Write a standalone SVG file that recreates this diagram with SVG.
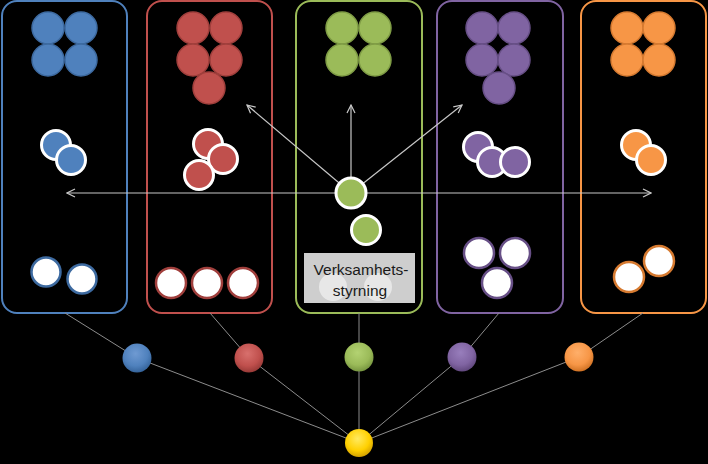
<svg xmlns="http://www.w3.org/2000/svg" width="708" height="464" viewBox="0 0 708 464">
<defs>
<style>
.panel{fill:#000;stroke-width:2}
.cb{fill:#4f81bd;stroke:#3d6aa0}.cr{fill:#c0504d;stroke:#a03f3c}.cg{fill:#9bbb59;stroke:#7f9c45}.cp{fill:#8064a2;stroke:#674f86}.co{fill:#f79646;stroke:#d67a30}
.top circle{stroke-width:1.5}
.mid circle{stroke:#fff;stroke-width:3}
.bot circle{fill:#fff;stroke-width:2.5}
.arrow{stroke:#c8c8c8;stroke-width:1.2;fill:none;marker-end:url(#ah)}
.link{stroke:#8c8c8c;stroke-width:1;fill:none}
.lbl{font-family:"Liberation Sans",Arial,sans-serif;font-size:15.5px;fill:#1a1a1a;text-anchor:middle}
</style>
<marker id="ah" viewBox="0 0 10 10" refX="9" refY="5" markerWidth="10" markerHeight="10" markerUnits="userSpaceOnUse" orient="auto">
<path d="M1,1 L9,5 L1,9" fill="none" stroke="#c8c8c8" stroke-width="1.2"/>
</marker>
<radialGradient id="gB" cx="45%" cy="35%" r="65%"><stop offset="0" stop-color="#6f9ad2"/><stop offset="0.65" stop-color="#4f81bd"/><stop offset="1" stop-color="#35639a"/></radialGradient>
<radialGradient id="gR" cx="45%" cy="35%" r="65%"><stop offset="0" stop-color="#d8706d"/><stop offset="0.65" stop-color="#c0504d"/><stop offset="1" stop-color="#983a37"/></radialGradient>
<radialGradient id="gG" cx="45%" cy="35%" r="65%"><stop offset="0" stop-color="#b3d272"/><stop offset="0.65" stop-color="#9bbb59"/><stop offset="1" stop-color="#779640"/></radialGradient>
<radialGradient id="gP" cx="45%" cy="35%" r="65%"><stop offset="0" stop-color="#987ebc"/><stop offset="0.65" stop-color="#8064a2"/><stop offset="1" stop-color="#61487e"/></radialGradient>
<radialGradient id="gO" cx="45%" cy="35%" r="65%"><stop offset="0" stop-color="#ffaf6a"/><stop offset="0.65" stop-color="#f79646"/><stop offset="1" stop-color="#d07224"/></radialGradient>
<radialGradient id="gY" cx="45%" cy="35%" r="65%"><stop offset="0" stop-color="#ffea60"/><stop offset="0.65" stop-color="#ffd000"/><stop offset="1" stop-color="#d4a200"/></radialGradient>
</defs>
<rect width="708" height="464" fill="#000"/>

<g id="panel-blue">
<rect class="panel" x="2" y="1" width="125" height="312" rx="15" stroke="#4f81bd"/>
<g class="top cb"><circle cx="48" cy="28" r="16"/><circle cx="81" cy="28" r="16"/><circle cx="48" cy="60" r="16"/><circle cx="81" cy="60" r="16"/></g>
<g class="mid cb"><circle cx="56" cy="145" r="14.5"/><circle cx="71" cy="160" r="14.5"/></g>
<g class="bot cb"><circle cx="46" cy="272" r="14.5"/><circle cx="82" cy="279" r="14.5"/></g>
</g>

<g id="panel-red">
<rect class="panel" x="147" y="1" width="125" height="312" rx="15" stroke="#c0504d"/>
<g class="top cr"><circle cx="193" cy="28" r="16"/><circle cx="226" cy="28" r="16"/><circle cx="193" cy="60" r="16"/><circle cx="226" cy="60" r="16"/><circle cx="209" cy="88" r="16"/></g>
<g class="mid cr"><circle cx="208" cy="144" r="14.5"/><circle cx="223" cy="159" r="14.5"/><circle cx="199" cy="175" r="14.5"/></g>
<g class="bot cr"><circle cx="171" cy="283" r="15"/><circle cx="207" cy="283" r="15"/><circle cx="243" cy="283" r="15"/></g>
</g>

<g id="panel-green">
<rect class="panel" x="296" y="1" width="126" height="312" rx="15" stroke="#9bbb59"/>
<g class="top cg"><circle cx="342" cy="28" r="16"/><circle cx="375" cy="28" r="16"/><circle cx="342" cy="60" r="16"/><circle cx="375" cy="60" r="16"/></g>
</g>

<g id="panel-purple">
<rect class="panel" x="437" y="1" width="126" height="312" rx="15" stroke="#8064a2"/>
<g class="top cp"><circle cx="482" cy="28" r="16"/><circle cx="514" cy="28" r="16"/><circle cx="482" cy="60" r="16"/><circle cx="514" cy="60" r="16"/><circle cx="499" cy="88" r="16"/></g>
<g class="mid cp"><circle cx="478" cy="147" r="14.5"/><circle cx="492" cy="162" r="14.5"/><circle cx="515" cy="162" r="14.5"/></g>
<g class="bot cp"><circle cx="479" cy="253" r="15"/><circle cx="515" cy="253" r="15"/><circle cx="497" cy="283" r="15"/></g>
</g>

<g id="panel-orange">
<rect class="panel" x="581" y="1" width="125" height="312" rx="15" stroke="#f79646"/>
<g class="top co"><circle cx="627" cy="28" r="16"/><circle cx="659" cy="28" r="16"/><circle cx="627" cy="60" r="16"/><circle cx="659" cy="60" r="16"/></g>
<g class="mid co"><circle cx="636" cy="145" r="14.5"/><circle cx="651" cy="160" r="14.5"/></g>
<g class="bot co"><circle cx="629" cy="277" r="15"/><circle cx="659" cy="261" r="15"/></g>
</g>

<g id="connectors">
<line class="arrow" x1="351" y1="193" x2="67" y2="193"/>
<line class="arrow" x1="351" y1="193" x2="651" y2="193"/>
<line class="arrow" x1="351" y1="193" x2="351" y2="105"/>
<line class="arrow" x1="351" y1="193" x2="247" y2="105"/>
<line class="arrow" x1="351" y1="193" x2="462" y2="105"/>
<polyline class="link" points="65,313 137,358 359,443"/>
<polyline class="link" points="210,313 249,358 359,443"/>
<polyline class="link" points="359,313 359,443"/>
<polyline class="link" points="499,313 462,357 359,443"/>
<polyline class="link" points="643,313 579,357 359,443"/>
</g>

<g id="green-center" class="mid cg">
<circle cx="351" cy="193" r="15"/>
<circle cx="366" cy="230" r="14.5"/>
</g>

<g id="label">
<circle cx="333" cy="287" r="14" fill="#fff"/>
<circle cx="378" cy="287" r="14" fill="#fff"/>
<rect x="304" y="253" width="111" height="50" fill="#e4e4e4" fill-opacity="0.9"/>
<text class="lbl" x="361" y="275">Verksamhets-</text>
<text class="lbl" x="360" y="296">styrning</text>
</g>

<g id="ball-blue"><circle cx="137" cy="358" r="14.5" fill="url(#gB)"/></g>
<g id="ball-red"><circle cx="249" cy="358" r="14.5" fill="url(#gR)"/></g>
<g id="ball-green"><circle cx="359" cy="357" r="14.5" fill="url(#gG)"/></g>
<g id="ball-purple"><circle cx="462" cy="357" r="14.5" fill="url(#gP)"/></g>
<g id="ball-orange"><circle cx="579" cy="357" r="14.5" fill="url(#gO)"/></g>
<g id="ball-yellow"><circle cx="359" cy="443" r="14" fill="url(#gY)"/></g>
</svg>
